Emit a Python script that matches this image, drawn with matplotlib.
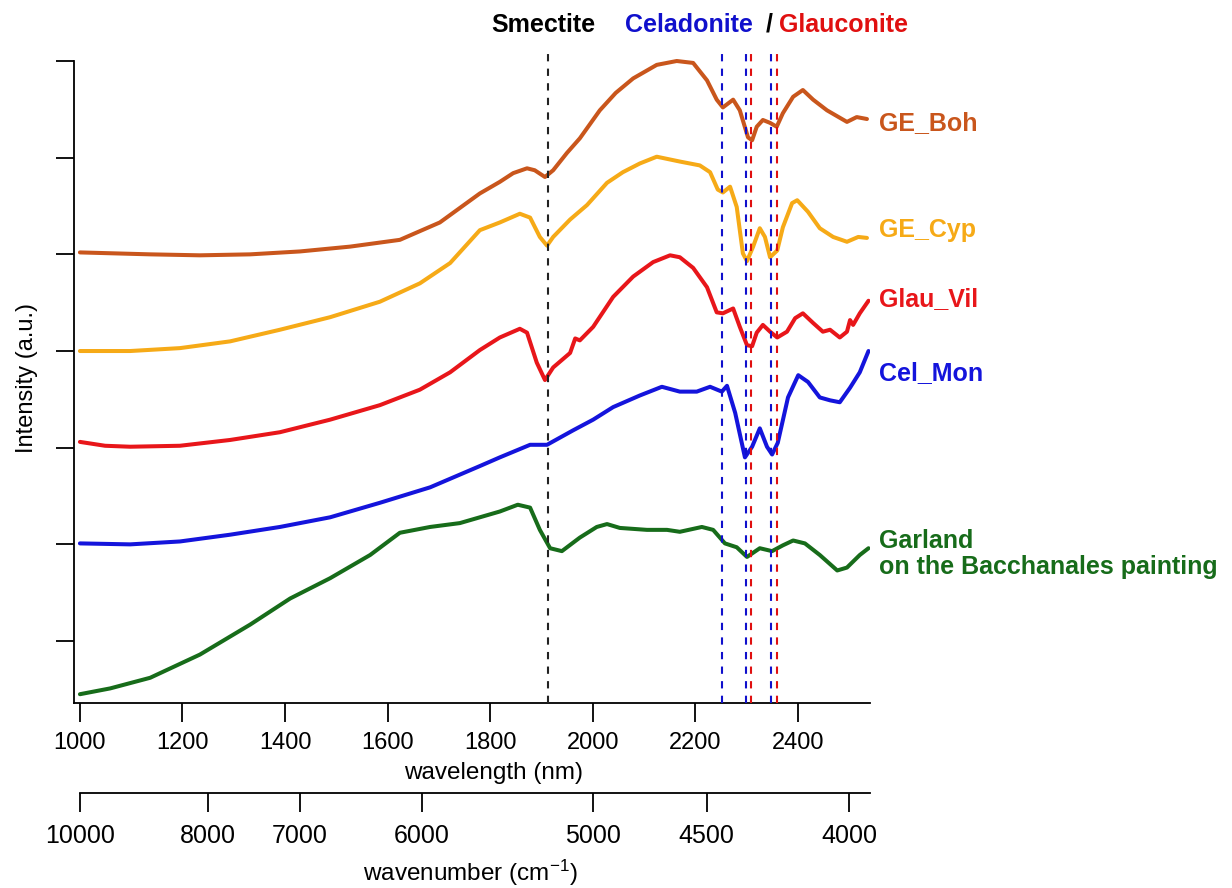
import numpy as np
import matplotlib
matplotlib.use('Agg')
import matplotlib.pyplot as plt

plt.rcParams['font.family'] = ['Liberation Sans', 'DejaVu Sans']
plt.rcParams['mathtext.default'] = 'regular'

# spectra (wavelength in nm, intensity in a.u. with offsets)
boh_nm = [1000, 1137, 1234, 1332, 1429, 1527, 1624, 1702, 1780, 1819, 1845, 1872, 1887, 1907, 1923,
          1950, 1975, 2014, 2045, 2079, 2125, 2164, 2196, 2223, 2242, 2254, 2274, 2287, 2303, 2311, 2320,
          2332, 2346, 2359, 2371, 2391, 2410, 2430, 2457, 2496, 2515, 2535]
boh_i = [4.02, 4.00, 3.99, 4.00, 4.03, 4.08, 4.15, 4.33, 4.63, 4.75, 4.84, 4.89, 4.87, 4.80, 4.87,
         5.05, 5.20, 5.49, 5.67, 5.82, 5.96, 6.00, 5.98, 5.80, 5.60, 5.52, 5.60, 5.49, 5.21, 5.18, 5.32,
         5.39, 5.36, 5.32, 5.46, 5.63, 5.70, 5.60, 5.49, 5.37, 5.42, 5.40]

cyp_nm = [1000, 1098, 1195, 1293, 1390, 1488, 1585, 1663, 1722, 1780, 1819, 1858, 1878, 1897, 1911,
          1923, 1956, 1989, 2028, 2059, 2092, 2125, 2170, 2209, 2229, 2244, 2254, 2268, 2281, 2293,
          2301, 2313, 2326, 2336, 2346, 2360, 2371, 2389, 2399, 2420, 2443, 2469, 2496, 2518, 2535]
cyp_i = [3.00, 3.00, 3.03, 3.10, 3.22, 3.35, 3.51, 3.70, 3.91, 4.25, 4.33, 4.42, 4.38, 4.18, 4.09,
         4.18, 4.36, 4.51, 4.74, 4.85, 4.94, 5.01, 4.96, 4.92, 4.85, 4.67, 4.64, 4.70, 4.49, 4.01,
         3.93, 4.08, 4.27, 4.18, 3.97, 4.04, 4.28, 4.53, 4.56, 4.44, 4.27, 4.18, 4.13, 4.18, 4.17]

vil_nm = [1000, 1049, 1098, 1195, 1293, 1390, 1488, 1585, 1663, 1722, 1780, 1819, 1858, 1872, 1891,
          1907, 1923, 1956, 1966, 1975, 2001, 2040, 2079, 2118, 2151, 2170, 2196, 2223, 2242, 2254,
          2274, 2287, 2301, 2311, 2320, 2332, 2346, 2360, 2379, 2395, 2410, 2430, 2449, 2463, 2482,
          2496, 2502, 2508, 2521, 2538]
vil_i = [2.06, 2.02, 2.01, 2.02, 2.08, 2.16, 2.29, 2.44, 2.60, 2.78, 3.01, 3.14, 3.23, 3.19, 2.88,
         2.70, 2.83, 2.98, 3.13, 3.11, 3.25, 3.56, 3.77, 3.92, 3.99, 3.97, 3.86, 3.66, 3.40, 3.39,
         3.44, 3.25, 3.06, 3.05, 3.19, 3.27, 3.20, 3.14, 3.20, 3.34, 3.39, 3.29, 3.20, 3.22, 3.14,
         3.20, 3.32, 3.27, 3.39, 3.52]

mon_nm = [1000, 1098, 1195, 1293, 1390, 1488, 1585, 1683, 1780, 1819, 1878, 1911, 1962, 2001, 2040,
          2092, 2135, 2170, 2203, 2229, 2252, 2262, 2278, 2297, 2311, 2326, 2340, 2350, 2361, 2381,
          2401, 2420, 2443, 2463, 2482, 2502, 2521, 2538]
mon_i = [1.01, 1.00, 1.03, 1.10, 1.18, 1.28, 1.43, 1.59, 1.81, 1.90, 2.03, 2.03, 2.18, 2.29, 2.42,
         2.54, 2.63, 2.58, 2.58, 2.63, 2.58, 2.64, 2.36, 1.90, 2.01, 2.20, 2.01, 1.93, 2.05, 2.52,
         2.75, 2.68, 2.52, 2.49, 2.47, 2.62, 2.78, 3.00]

gar_nm = [1000, 1059, 1137, 1234, 1332, 1410, 1488, 1566, 1624, 1683, 1741, 1780, 1819, 1854, 1878,
          1897, 1917, 1940, 1975, 2008, 2028, 2053, 2106, 2145, 2170, 2213, 2235, 2258, 2281, 2301,
          2326, 2350, 2371, 2391, 2414, 2443, 2477, 2496, 2521, 2538]
gar_i = [-0.55, -0.49, -0.38, -0.14, 0.17, 0.44, 0.65, 0.89, 1.12, 1.18, 1.22, 1.28, 1.34, 1.41, 1.38,
         1.15, 0.96, 0.93, 1.07, 1.18, 1.21, 1.17, 1.15, 1.15, 1.13, 1.18, 1.15, 1.01, 0.97, 0.87,
         0.96, 0.93, 0.99, 1.04, 1.01, 0.89, 0.73, 0.76, 0.89, 0.96]

series = [(boh_nm, boh_i, '#C9561C', 'GE_Boh'),
          (cyp_nm, cyp_i, '#F6AA17', 'GE_Cyp'),
          (vil_nm, vil_i, '#E8161A', 'Glau_Vil'),
          (mon_nm, mon_i, '#1414DC', 'Cel_Mon'),
          (gar_nm, gar_i, '#176C1A', 'Garland')]

smectite_nm = [1913]
celadonite_nm = [2253, 2299, 2348]
glauconite_nm = [2309, 2359]

wl_ticks = [1000, 1200, 1400, 1600, 1800, 2000, 2200, 2400]
wn_ticks = [10000, 8000, 7000, 6000, 5000, 4500, 4000]

fig = plt.figure(figsize=(12.32, 8.88), dpi=100)
ax = fig.add_axes([0.0603, 0.2080, 0.6459, 0.7368])

for nm, inten, col, name in series:
    ax.plot(nm, inten, color=col, lw=2.9, solid_capstyle='round', solid_joinstyle='round', zorder=2)

for x in smectite_nm:
    ax.axvline(x, color='#222222', lw=1.5, ls=(0, (3.5, 3.5)), zorder=3)
for x in celadonite_nm:
    ax.axvline(x, color='#1010CC', lw=1.5, ls=(0, (3.5, 3.5)), zorder=3)
for x in glauconite_nm:
    ax.axvline(x, color='#E01010', lw=1.5, ls=(0, (3.5, 3.5)), zorder=3)

ax.set_xlim(989, 2541)
ax.set_ylim(-0.644, 6.124)
for s in ['top', 'right']:
    ax.spines[s].set_visible(False)
ax.spines['left'].set_bounds(-0.644, 6)
for s in ['left', 'bottom']:
    ax.spines[s].set_linewidth(1.3)
ax.set_yticks(range(7))
ax.set_yticklabels([])
ax.set_xticks(wl_ticks)
ax.tick_params(axis='y', direction='out', length=13, width=1.3)
ax.tick_params(axis='x', direction='out', length=14, width=1.3, labelsize=17, pad=7)

# wavenumber axis
ax2 = fig.add_axes([0.0603, 0.1070, 0.6459, 0.0001])
ax2.set_xlim(989, 2541)
ax2.set_yticks([])
for s in ['top', 'right', 'left']:
    ax2.spines[s].set_visible(False)
ax2.spines['bottom'].set_bounds(1000, 2541)
ax2.spines['bottom'].set_linewidth(1.3)
ax2.patch.set_visible(False)
ax2.set_xticks([1e7 / w for w in wn_ticks])
ax2.set_xticklabels([str(w) for w in wn_ticks])
ax2.tick_params(axis='x', direction='out', length=14, width=1.3, labelsize=18, pad=8)

fig.text(494 / 1232, 1 - 773 / 888, 'wavelength (nm)', ha='center', va='center', fontsize=17.5)
fig.text(470 / 1232, 1 - 873 / 888, 'wavenumber (cm$^{-1}$)', ha='center', va='center', fontsize=17.5)
fig.text(27 / 1232, 1 - 378 / 888, 'Intensity (a.u.)', ha='center', va='center', rotation=90, fontsize=17)

# band labels on top
fig.text(543 / 1232, 1 - 32 / 888, 'Smectite', ha='center', va='baseline', fontsize=18, fontweight='bold', color='black')
fig.text(625 / 1232, 1 - 32 / 888, 'Celadonite', ha='left', va='baseline', fontsize=18, fontweight='bold', color='#1010CC')
fig.text(766 / 1232, 1 - 32 / 888, '/', ha='left', va='baseline', fontsize=18, fontweight='bold', color='black')
fig.text(779 / 1232, 1 - 32 / 888, 'Glauconite', ha='left', va='baseline', fontsize=18, fontweight='bold', color='#E01010')

# sample names
lab_y = [130, 236.7, 306, 380, 548.3]
for (nm, inten, col, name), yy in zip(series, lab_y):
    fig.text(879 / 1232, 1 - yy / 888, name, ha='left', va='baseline', fontsize=18, fontweight='bold', color=col)
fig.text(879 / 1232, 1 - 574 / 888, 'on the Bacchanales painting', ha='left', va='baseline',
         fontsize=18, fontweight='bold', color=series[4][2])

fig.savefig('out.png', dpi=100)
